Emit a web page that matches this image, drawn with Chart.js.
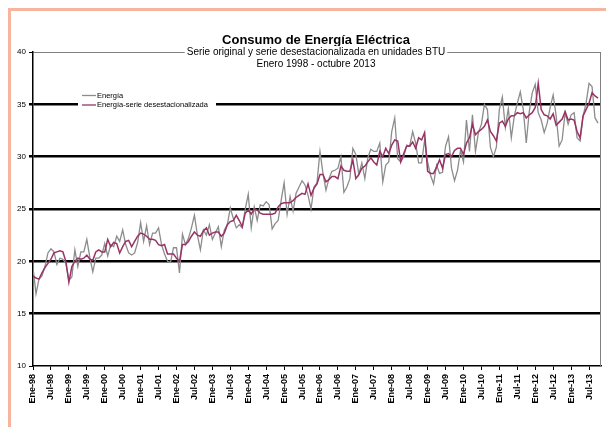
<!DOCTYPE html>
<html>
<head>
<meta charset="utf-8">
<script src="https://cdn.jsdelivr.net/npm/chart.js@4.4.0/dist/chart.umd.min.js"></script>
<style>
  html, body { margin: 0; padding: 0; background: #fff; }
  #wrap { position: relative; width: 606px; height: 427px; overflow: hidden; }
  #marco { position: absolute; left: 8px; top: 8px; width: 620px; height: 440px;
           border-left: 3px solid #F5B59E; border-top: 3px solid #F5B59E; }
  #myChart { position: absolute; left: 0; top: 0; }
</style>
</head>
<body>
<div id="wrap">
  <div id="marco"></div>
  <canvas id="myChart" width="606" height="427"></canvas>
</div>
<script>
// Energía, serie original (ene-98 a oct-13)
var energia = [
  19.4, 16.9, 18.3, 18.6, 19.5, 20.8, 21.2, 20.9, 19.7, 20.3, 20.2, 19.8,
  18.2, 18.5, 21.1, 19.5, 20.9, 20.9, 22.1, 20.4, 19.0, 20.3, 20.3, 20.6,
  21.7, 20.5, 21.6, 21.4, 22.4, 21.9, 23.0, 21.6, 20.8, 20.6, 20.8, 21.8,
  23.7, 21.9,
  23.4, 21.6, 22.7, 22.7, 23.2, 21.6, 20.7, 20.0, 19.9, 21.3, 21.3, 18.9,
  22.6, 21.6, 22.2, 23.2, 24.4, 22.5, 21.1, 23.0, 22.5, 23.5, 22.1, 22.7,
  23.3, 21.4, 23.0, 23.5, 25.1, 24.1, 23.2, 23.5, 23.2, 25.0, 26.4, 23.2, 25.2,
  23.9, 25.4, 25.3, 25.7, 25.4, 23.1, 23.6, 23.9, 25.8, 27.5, 24.5, 26.2,
  24.8, 26.5, 27.1, 27.7, 27.3, 26.3, 25.0, 27.1, 27.5, 30.5, 28.4, 26.8,
  27.9, 28.6, 28.7, 28.9, 30.0, 26.6, 27.1, 27.9, 30.8, 30.2, 28.3, 29.4,
  27.9, 29.9, 30.7,
  30.5, 30.5, 31.3, 27.6, 29.2, 29.5, 32.4, 33.7, 29.8, 29.5, 30.0, 31.1,
  31.0, 32.4, 31.3, 29.4, 29.4, 31.6, 29.5, 28.2, 27.4, 29.2, 28.4, 28.5,
  31.0, 31.9, 28.9, 27.7, 28.7, 30.6, 29.5, 33.5, 30.5, 34.0, 30.5, 32.3,
  33.1, 35.0,
  34.5, 30.9, 30.0, 30.9, 34.5, 35.7, 32.8, 34.6, 31.8, 33.9, 35.1, 36.2,
  34.5, 31.3, 34.3, 36.1, 36.9, 34.2, 33.5, 32.3, 33.2, 34.7, 35.9, 33.9,
  31.0, 31.6, 34.2, 33.1, 34.0, 34.2, 31.8, 31.5, 33.9, 35.1, 37.0, 36.7,
  33.7, 33.2
];
// Energía, serie desestacionalizada
var desest = [
  18.6, 18.4, 18.3, 18.9, 19.4, 19.8, 20.2, 20.8, 20.9, 21.0, 20.9, 20.0,
  18.0, 19.5, 20.0, 20.3, 20.2, 20.3, 20.6, 20.2, 20.1, 20.9, 21.1, 20.9,
  20.9, 22.1, 21.4, 21.8, 21.7, 20.8, 21.4, 21.9, 22.0, 21.4, 21.9, 22.4, 22.7,
  22.6, 22.4, 22.1, 22.1, 22.0, 21.6, 21.5, 21.6, 20.7, 20.7, 20.7, 20.3,
  20.0, 21.6, 21.6, 21.9, 22.4, 22.8, 22.5, 22.4, 22.9, 23.2, 22.5, 22.7,
  22.8, 22.8, 22.4, 22.7, 23.5, 23.8, 23.9, 24.4, 23.9, 23.3, 24.6, 24.9,
  24.5, 25.0,
  24.9, 24.6, 24.5, 24.5, 24.5, 24.5, 24.6, 25.2, 25.5, 25.6, 25.6, 25.6,
  25.8, 26.1, 26.3, 26.5, 26.4, 27.4, 26.3, 27.0, 27.4, 28.3, 28.3, 27.6,
  27.8, 28.1, 28.1, 27.9, 29.1, 28.7, 28.6, 28.6, 29.7, 27.9, 28.3, 28.9,
  29.1, 29.5, 29.9,
  29.5, 29.2, 30.5, 30.0, 30.8, 30.3, 31.1, 31.6, 31.5, 29.5, 30.3, 31.0,
  31.0, 31.4, 30.8, 31.8, 31.6, 32.3, 28.6, 28.4, 28.4, 29.0, 29.7, 28.9,
  30.2, 30.3, 30.0, 30.6, 30.8, 30.8, 30.2, 31.3, 31.8, 33.1, 32.1, 32.4,
  32.6, 32.9,
  33.5, 32.4, 32.0, 31.5, 33.2, 33.4, 32.9, 33.6, 33.9, 33.9, 34.2, 34.1,
  34.2, 33.7, 34.0, 34.2, 34.7, 37.0, 34.5, 34.0, 33.9, 33.6, 34.1, 33.0,
  33.3, 33.6, 34.3, 33.5, 33.6, 33.5, 32.4, 31.8, 33.9, 34.5, 35.1, 36.1,
  35.8, 35.6
];
// etiquetas del eje x, una cada 6 meses
var etiquetas = [
  'Ene-98', 'Jul-98', 'Ene-99', 'Jul-99', 'Ene-00', 'Jul-00', 'Ene-01', 'Jul-01',
  'Ene-02', 'Jul-02', 'Ene-03', 'Jul-03', 'Ene-04', 'Jul-04', 'Ene-05', 'Jul-05',
  'Ene-06', 'Jul-06', 'Ene-07', 'Jul-07', 'Ene-08', 'Jul-08', 'Ene-09', 'Jul-09',
  'Ene-10', 'Jul-10', 'Ene-11', 'Jul-11', 'Ene-12', 'Jul-12', 'Ene-13', 'Jul-13'
];
var nombres = ['Energía', 'Energía-serie desestacionalizada'];
var titulo = 'Consumo de Energía Eléctrica';
var subtitulos = ['Serie original y serie desestacionalizada en unidades BTU', 'Enero 1998 - octubre 2013'];

var colores = ['#8C8C8C', '#993366'];

Chart.defaults.font.family = "'Liberation Sans', Arial, sans-serif";
Chart.defaults.color = '#000';

function puntos(serie) {
  return serie.map(function (v, i) { return { x: i, y: v }; });
}

// titulos y leyenda dibujados encima de las lineas del grafico
var textos = {
  id: 'textos',
  afterDraw: function (chart) {
    var ctx = chart.ctx, a = chart.chartArea;
    ctx.save();
    // borde derecho del area
    ctx.strokeStyle = '#808080';
    ctx.lineWidth = 1;
    ctx.beginPath();
    ctx.moveTo(a.right - 0.5, a.top);
    ctx.lineTo(a.right - 0.5, a.bottom);
    ctx.stroke();

    var cx = 316;
    ctx.textAlign = 'center';
    ctx.textBaseline = 'middle';
    ctx.fillStyle = '#000';
    ctx.font = "bold 13px 'Liberation Sans', Arial";
    ctx.fillText(titulo, cx, 40);
    ctx.font = "10px 'Liberation Sans', Arial";
    var w = ctx.measureText(subtitulos[0]).width;
    ctx.fillStyle = '#fff';
    ctx.fillRect(cx - w / 2 - 2, 46, w + 4, 12);
    ctx.fillStyle = '#000';
    ctx.fillText(subtitulos[0], cx, 52.5);
    ctx.fillText(subtitulos[1], cx, 64);

    // leyenda
    ctx.fillStyle = '#fff';
    ctx.fillRect(78, 89, 138, 21);
    ctx.font = "7.5px 'Liberation Sans', Arial";
    ctx.textAlign = 'left';
    var ys = [95.5, 105];
    for (var k = 0; k < 2; k++) {
      ctx.strokeStyle = colores[k];
      ctx.lineWidth = 1.3;
      ctx.beginPath();
      ctx.moveTo(82, ys[k]);
      ctx.lineTo(96, ys[k]);
      ctx.stroke();
      ctx.fillStyle = '#000';
      ctx.fillText(nombres[k], 97, ys[k]);
    }
    ctx.restore();
  }
};

var ctx = document.getElementById('myChart').getContext('2d');
var myChart = new Chart(ctx, {
  type: 'line',
  data: {
    datasets: [{
      label: nombres[0],
      data: puntos(energia),
      borderColor: colores[0],
      borderWidth: 1.3,
      pointRadius: 0,
      order: 2
    }, {
      label: nombres[1],
      data: puntos(desest),
      borderColor: colores[1],
      borderWidth: 1.5,
      pointRadius: 0,
      order: 1
    }]
  },
  options: {
    responsive: false,
    animation: false,
    layout: { padding: { left: 0, right: 5, top: 52, bottom: 0 } },
    plugins: {
      legend: { display: false },
      tooltip: { enabled: false }
    },
    scales: {
      x: {
        type: 'linear',
        min: 0,
        max: 190,
        afterFit: function (s) { s.height = 61; },
        afterBuildTicks: function (s) {
          s.ticks = etiquetas.map(function (t, i) { return { value: i * 6 }; });
        },
        ticks: {
          autoSkip: false,
          minRotation: 90,
          maxRotation: 90,
          padding: 4,
          font: { size: 9, weight: 'bold' },
          callback: function (v) { return etiquetas[v / 6]; }
        },
        grid: { drawOnChartArea: false, drawTicks: true, tickLength: 4, tickColor: '#000' },
        border: { color: '#000', width: 1.5 }
      },
      y: {
        min: 10,
        max: 40,
        afterFit: function (s) { s.width = 33; },
        ticks: { stepSize: 5, font: { size: 8 }, padding: 3 },
        grid: {
          drawTicks: true,
          tickLength: 4,
          tickColor: '#000',
          color: function (c) {
            var v = c.tick.value;
            if (v === 10) return 'rgba(0,0,0,0)';
            if (v === 40) return '#808080';
            return '#000';
          },
          lineWidth: function (c) {
            var v = c.tick.value;
            return (v === 40 || v === 10) ? 1 : 2.5;
          }
        },
        border: { color: '#000', width: 1.5 }
      }
    }
  },
  plugins: [textos]
});
</script>
</body>
</html>
